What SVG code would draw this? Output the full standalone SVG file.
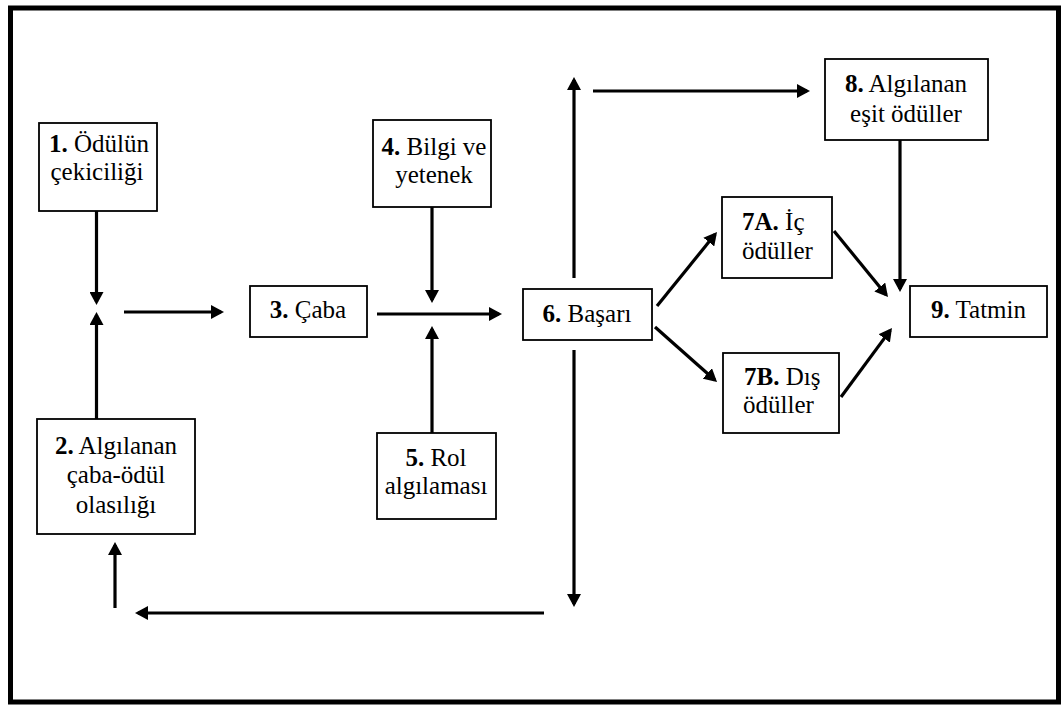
<svg xmlns="http://www.w3.org/2000/svg" width="1063" height="705" viewBox="0 0 1063 705">
<defs>
<marker id="ah" markerUnits="userSpaceOnUse" markerWidth="14" markerHeight="14" refX="10" refY="7" orient="auto">
<path d="M0,0 L13,7 L0,14 z" fill="#000"/>
</marker>
<style>
.box{fill:#fff;stroke:#000;stroke-width:1.8}
.t{font-family:"Liberation Serif","Times New Roman",serif;font-size:25px;fill:#000;text-anchor:middle}
.l{text-anchor:start}
.b{font-weight:bold}
.c line{stroke:#000;stroke-width:3.2;marker-end:url(#ah)}
</style>
</defs>
<rect x="0" y="0" width="1063" height="705" fill="#fff"/>
<rect x="10.5" y="8" width="1048" height="694" fill="none" stroke="#000" stroke-width="5"/>

<g id="n1"><rect class="box" x="39" y="123" width="118" height="88"/>
<text class="t" x="99" y="152"><tspan class="b">1.</tspan> Ödülün</text>
<text class="t" x="97" y="180">çekiciliği</text></g>

<g id="n2"><rect class="box" x="37" y="419" width="158" height="115"/>
<text class="t" x="116" y="454"><tspan class="b">2.</tspan> Algılanan</text>
<text class="t" x="116" y="483">çaba-ödül</text>
<text class="t" x="116" y="513">olasılığı</text></g>

<g id="n3"><rect class="box" x="250" y="286" width="117" height="51"/>
<text class="t" x="308" y="318"><tspan class="b">3.</tspan> Çaba</text></g>

<g id="n4"><rect class="box" x="373" y="120" width="118" height="87"/>
<text class="t" x="434" y="155"><tspan class="b">4.</tspan> Bilgi ve</text>
<text class="t" x="434" y="183">yetenek</text></g>

<g id="n5"><rect class="box" x="377" y="433" width="119" height="86"/>
<text class="t" x="436" y="466"><tspan class="b">5.</tspan> Rol</text>
<text class="t" x="436" y="494">algılaması</text></g>

<g id="n6"><rect class="box" x="523" y="289" width="129" height="51"/>
<text class="t" x="587" y="322"><tspan class="b">6.</tspan> Başarı</text></g>

<g id="n7a"><rect class="box" x="722" y="197" width="110" height="81"/>
<text class="t l" x="742" y="230"><tspan class="b">7A.</tspan> İç</text>
<text class="t l" x="742" y="259">ödüller</text></g>

<g id="n7b"><rect class="box" x="723" y="353" width="116" height="80"/>
<text class="t l" x="744" y="385"><tspan class="b">7B.</tspan> Dış</text>
<text class="t l" x="743" y="413">ödüller</text></g>

<g id="n8"><rect class="box" x="825" y="59" width="163" height="81"/>
<text class="t" x="906" y="92"><tspan class="b">8.</tspan> Algılanan</text>
<text class="t" x="906" y="122">eşit ödüller</text></g>

<g id="n9"><rect class="box" x="910" y="286" width="137" height="51"/>
<text class="t" x="978.5" y="318"><tspan class="b">9.</tspan> Tatmin</text></g>

<g id="connectors" class="c">
<line x1="96.5" y1="211" x2="96.5" y2="302"/>
<line x1="96.5" y1="419" x2="96.5" y2="315"/>
<line x1="124" y1="312" x2="221" y2="312"/>
<line x1="432" y1="207" x2="432" y2="300"/>
<line x1="432" y1="433" x2="432" y2="329"/>
<line x1="377" y1="314" x2="499" y2="314"/>
<line x1="574" y1="278" x2="574" y2="80"/>
<line x1="593" y1="91" x2="807" y2="91"/>
<line x1="900" y1="140" x2="900" y2="289"/>
<line x1="574" y1="350" x2="574" y2="604"/>
<line x1="544" y1="613" x2="138" y2="613"/>
<line x1="115" y1="608" x2="115" y2="545"/>
<line x1="657" y1="306" x2="715.1" y2="234.3"/>
<line x1="655" y1="327" x2="714.8" y2="380"/>
<line x1="834" y1="231" x2="886.1" y2="294.7"/>
<line x1="841" y1="397" x2="890.2" y2="330.4"/>
</g>
</svg>
